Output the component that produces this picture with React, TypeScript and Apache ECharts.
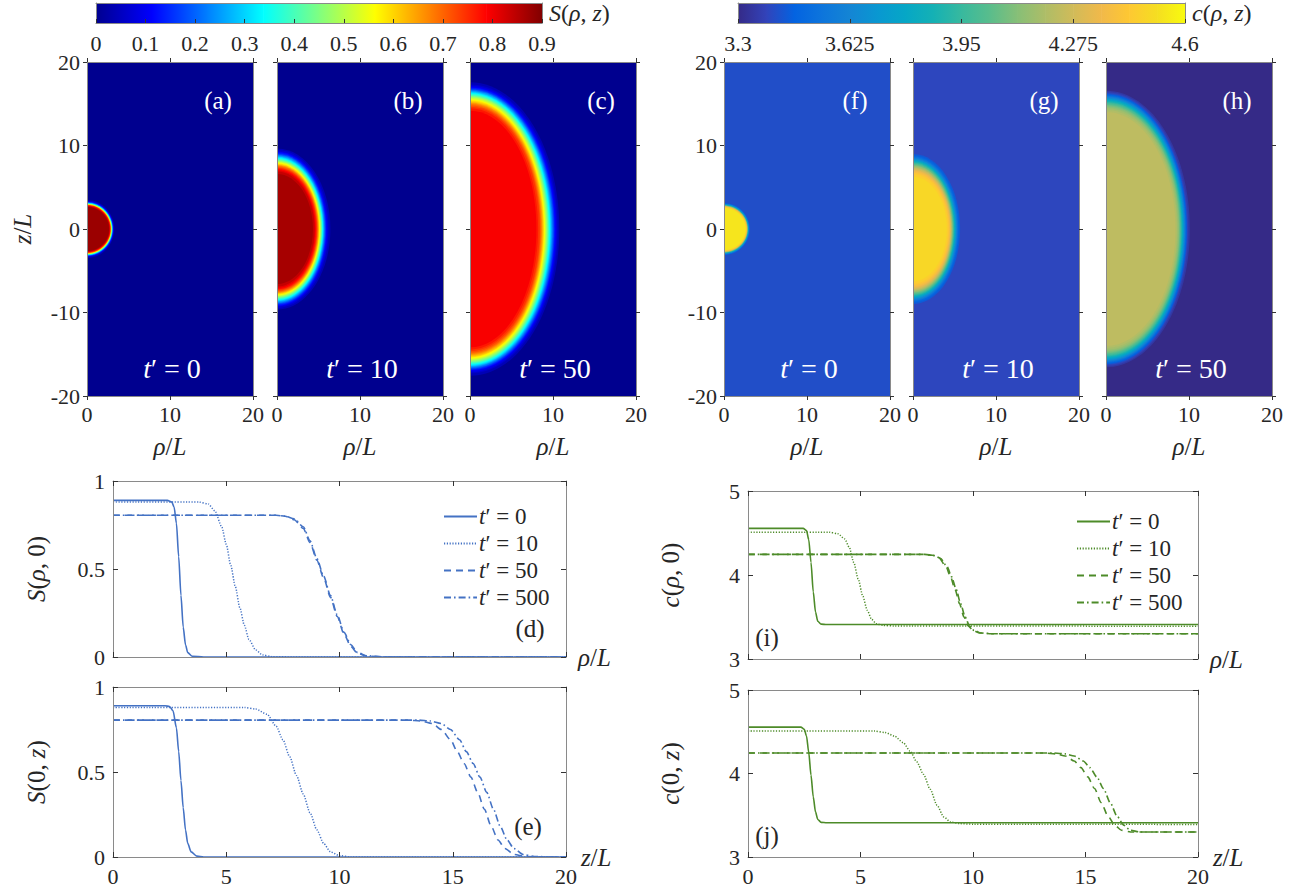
import React, { useEffect, useRef } from 'react';
import * as echarts from 'echarts';

// ---------- data ----------
// S(rho,0)
const S_RHO_T0 = [[0,0.89],[2.4,0.89],[2.6,0.88],[2.7,0.85],[2.8,0.76],[2.9,0.57],[3.0,0.35],[3.1,0.17],[3.2,0.07],[3.3,0.025],[3.5,0.004],[4,0],[20,0]];
const S_RHO_T10 = [[0,0.88],[3.8,0.88],[4.2,0.87],[4.5,0.83],[4.8,0.74],[5.0,0.64],[5.2,0.52],[5.4,0.40],[5.6,0.28],[5.8,0.18],[6.0,0.10],[6.3,0.04],[6.6,0.012],[7,0.002],[8,0],[20,0]];
const S_RHO_T50 = [[0,0.805],[7.2,0.805],[7.6,0.80],[8.0,0.78],[8.4,0.73],[8.7,0.65],[9.0,0.55],[9.3,0.45],[9.6,0.34],[9.9,0.23],[10.2,0.13],[10.5,0.06],[10.8,0.02],[11.2,0.005],[12,0],[20,0]];
const S_RHO_T500 = [[0,0.805],[7.2,0.805],[7.6,0.80],[8.0,0.785],[8.4,0.74],[8.7,0.66],[9.0,0.56],[9.3,0.46],[9.6,0.35],[9.9,0.24],[10.2,0.14],[10.5,0.07],[10.8,0.025],[11.2,0.007],[12,0],[20,0]];
// S(0,z)
const S_Z_T0 = [[0,0.89],[2.3,0.89],[2.5,0.885],[2.65,0.86],[2.8,0.76],[2.9,0.62],[3.0,0.45],[3.1,0.29],[3.2,0.16],[3.3,0.08],[3.45,0.03],[3.7,0.005],[4,0],[20,0]];
const S_Z_T10 = [[0,0.88],[5.8,0.88],[6.3,0.87],[6.8,0.84],[7.2,0.77],[7.5,0.69],[7.8,0.59],[8.1,0.48],[8.4,0.37],[8.7,0.26],[9.0,0.16],[9.3,0.08],[9.6,0.03],[10,0.008],[10.5,0],[20,0]];
const S_Z_T50 = [[0,0.805],[13,0.805],[13.6,0.80],[14.1,0.785],[14.5,0.75],[14.9,0.69],[15.2,0.62],[15.5,0.55],[15.8,0.47],[16.1,0.38],[16.4,0.28],[16.7,0.18],[17.0,0.10],[17.3,0.05],[17.7,0.015],[18.2,0.003],[19,0],[20,0]];
const S_Z_T500 = [[0,0.805],[13.5,0.805],[14.0,0.80],[14.5,0.785],[14.9,0.75],[15.3,0.69],[15.6,0.62],[15.9,0.55],[16.2,0.47],[16.5,0.38],[16.8,0.28],[17.1,0.18],[17.4,0.10],[17.7,0.05],[18.1,0.015],[18.6,0.003],[19.5,0],[20,0]];
// c(rho,0)
const C_RHO_T0 = [[0,4.555],[2.45,4.555],[2.6,4.53],[2.7,4.42],[2.8,4.15],[2.9,3.8],[3.0,3.56],[3.1,3.45],[3.25,3.415],[3.5,3.41],[20,3.41]];
const C_RHO_T10 = [[0,4.51],[3.6,4.51],[4.0,4.49],[4.3,4.43],[4.5,4.33],[4.7,4.15],[4.9,3.95],[5.1,3.75],[5.3,3.58],[5.5,3.47],[5.7,3.42],[6.0,3.40],[6.5,3.393],[20,3.39]];
const C_RHO_T50 = [[0,4.245],[7.8,4.245],[8.2,4.235],[8.5,4.2],[8.8,4.1],[9.0,3.98],[9.2,3.83],[9.4,3.66],[9.6,3.5],[9.8,3.39],[10.0,3.34],[10.3,3.31],[10.8,3.30],[20,3.30]];
const C_RHO_T500 = [[0,4.245],[7.85,4.245],[8.25,4.235],[8.55,4.2],[8.85,4.1],[9.05,3.98],[9.25,3.83],[9.45,3.66],[9.65,3.5],[9.85,3.39],[10.05,3.34],[10.35,3.31],[10.9,3.30],[20,3.30]];
// c(0,z)
const C_Z_T0 = [[0,4.555],[2.35,4.555],[2.5,4.53],[2.6,4.45],[2.7,4.25],[2.8,3.98],[2.9,3.72],[3.0,3.54],[3.1,3.45],[3.25,3.415],[3.5,3.41],[20,3.41]];
const C_Z_T10 = [[0,4.51],[5.6,4.51],[6.1,4.49],[6.5,4.45],[6.9,4.37],[7.2,4.27],[7.5,4.14],[7.8,3.99],[8.1,3.81],[8.4,3.62],[8.7,3.48],[9.0,3.42],[9.4,3.40],[10,3.393],[20,3.39]];
const C_Z_T50 = [[0,4.245],[13.2,4.245],[13.7,4.235],[14.1,4.21],[14.5,4.15],[14.8,4.07],[15.1,3.96],[15.4,3.82],[15.7,3.65],[16.0,3.49],[16.3,3.38],[16.6,3.32],[17.0,3.30],[20,3.30]];
const C_Z_T500 = [[0,4.245],[13.6,4.245],[14.1,4.235],[14.5,4.21],[14.9,4.15],[15.2,4.07],[15.5,3.96],[15.8,3.82],[16.1,3.65],[16.4,3.49],[16.7,3.38],[17.0,3.32],[17.4,3.30],[20,3.30]];

const TIMES = ['0', '10', '50', '500'];
const PANEL_TIMES = ['0', '10', '50'];
const S_BAR_TICKS = [0, 0.1, 0.2, 0.3, 0.4, 0.5, 0.6, 0.7, 0.8, 0.9];
const C_BAR_TICKS = [3.3, 3.625, 3.95, 4.275, 4.6];
const S_LETTERS = ['(a)', '(b)', '(c)'];
const C_LETTERS = ['(f)', '(g)', '(h)'];

// colormaps (evenly spaced stops)
const JET = ['#00008f', '#0000ff', '#0080ff', '#00ffff', '#80ff80', '#ffff00', '#ff8000', '#ff0000', '#800000'];
const PARULA = ['#352a87', '#3243ba', '#0363e1', '#0d75dc', '#1485d4', '#0998d1', '#06a7c6', '#15b1b4', '#38b99e', '#59bd8c', '#87bf77', '#aebd67', '#d1bb59', '#f1b94a', '#fec832', '#f5de21', '#f9fb0e'];

// ---------- styling ----------
const FONT = "'Liberation Serif', 'Times New Roman', serif";
const TXT = '#262626';
const BOX = '#8a8a8a';
const BLUE = '#4472c4';
const GREEN = '#4d8b29';
const TICK_FS = 22;

// rich styles for ECharts text (color) and for graphic texts (fill)
const rich = (size: number, color: string) => ({
  i: { fontFamily: FONT, fontStyle: 'italic', fontSize: size, color },
  n: { fontFamily: FONT, fontSize: size, color },
});
const richG = (size: number, fill: string) => ({
  i: { fontFamily: FONT, fontStyle: 'italic', fontSize: size, fill },
  n: { fontFamily: FONT, fontSize: size, fill },
});

const HM_LEFTS_S = [87, 277, 470];
const HM_LEFTS_C = [724, 913, 1106];
const HM_TOP = 62;
const HM_W = 166;
const HM_H = 334;

function crossing(pts: number[][], c: number): number {
  for (let i = 0; i < pts.length - 1; i++) {
    const [x0, y0] = pts[i];
    const [x1, y1] = pts[i + 1];
    if ((y0 - c) * (y1 - c) <= 0 && y0 !== y1) return x0 + ((c - y0) / (y1 - y0)) * (x1 - x0);
  }
  return 0;
}

function fieldLevels(rho: number[][], z: number[][], n = 32) {
  const inner = rho[0][1];
  const outer = rho[rho.length - 1][1];
  const out: number[][] = [[0, 0, outer, 0]];
  for (let k = 1; k < n; k++) {
    const c = outer + ((inner - outer) * k) / n;
    const cm = outer + ((inner - outer) * (k + 0.5)) / n;
    out.push([crossing(rho, c), crossing(z, c), Math.min(cm, inner), 1]);
  }
  return out;
}

function buildOption() {
  const grids: any[] = [];
  const xAxes: any[] = [];
  const yAxes: any[] = [];
  const series: any[] = [];
  const graphics: any[] = [];
  const sHeatSeries: number[] = [];
  const cHeatSeries: number[] = [];

  const addGrid = (left: number, top: number, width: number, height: number) => {
    grids.push({ left, top, width, height, containLabel: false });
    return grids.length - 1;
  };

  const mkAxis = (gi: number, s: any, pos: string, label: boolean, o: any) => {
    const ax: any = {
      type: 'value', gridIndex: gi, position: pos, min: s.min, max: s.max, z: 10,
      splitLine: { show: false },
      axisLine: { show: true, onZero: false, lineStyle: { color: BOX, width: 1 } },
      axisTick: { show: o.ticks !== false, inside: o.inside, length: o.tick, lineStyle: { color: '#333', width: 1 } },
      axisLabel: { show: label, color: TXT, fontFamily: FONT, fontSize: TICK_FS, margin: o.margin ?? 7 },
    };
    if (s.interval !== undefined) ax.interval = s.interval;
    if (s.custom) {
      ax.axisTick.customValues = s.custom;
      ax.axisLabel.customValues = s.custom;
    }
    return ax;
  };

  const box = (gi: number, xs: any, ys: any, o: any) => {
    const xb = mkAxis(gi, xs, 'bottom', !!o.xLabel, o);
    if (o.xName) Object.assign(xb, o.xName);
    xAxes.push(xb);
    const xi = xAxes.length - 1;
    xAxes.push(mkAxis(gi, xs, 'top', false, o.topTicks === false ? { ...o, ticks: false } : o));
    const yl = mkAxis(gi, ys, 'left', !!o.yLabel, o);
    if (o.yName) Object.assign(yl, o.yName);
    yAxes.push(yl);
    const yi = yAxes.length - 1;
    yAxes.push(mkAxis(gi, ys, 'right', false, o.sideTicks === false ? { ...o, ticks: false } : o));
    return [xi, yi];
  };

  const vText = (x: number, y: number, text: string) => {
    graphics.push({
      type: 'text', x, y, rotation: Math.PI / 2, z: 20,
      style: { text, rich: richG(25, TXT), align: 'center', verticalAlign: 'middle' },
    });
  };

  // ---------- colorbars ----------
  const colorbar = (left: number, width: number, min: number, max: number, ticks: number[], colors: string[], label: string) => {
    const gi = addGrid(left, 3, width, 20);
    const [xi, yi] = box(gi, { min, max, custom: ticks }, { min: 0, max: 1 }, {
      inside: true, tick: 4, xLabel: true, margin: 9, topTicks: false, sideTicks: false,
    });
    yAxes[yi].axisTick.show = false;
    const data: number[][] = [];
    for (let k = 0; k < colors.length - 1; k++) {
      data.push([min + ((max - min) * k) / (colors.length - 1), min + ((max - min) * (k + 1)) / (colors.length - 1), k]);
    }
    series.push({
      type: 'custom', xAxisIndex: xi, yAxisIndex: yi, z: 2, silent: true, data,
      renderItem: (params: any, api: any) => {
        const p0 = api.coord([api.value(0), 0]);
        const p1 = api.coord([api.value(1), 1]);
        const k = api.value(2);
        return {
          type: 'rect',
          shape: { x: p0[0], y: p1[1], width: p1[0] - p0[0] + 0.6, height: p0[1] - p1[1] },
          style: {
            fill: new echarts.graphic.LinearGradient(0, 0, 1, 0, [
              { offset: 0, color: colors[k] }, { offset: 1, color: colors[k + 1] },
            ]),
          },
        };
      },
    });
    graphics.push({
      type: 'text', x: left + width + 7, y: 13,
      style: { text: label, rich: richG(24, TXT), verticalAlign: 'middle', align: 'left' },
    });
  };
  colorbar(96, 446, 0, 0.9, S_BAR_TICKS, JET, '{i|S}{n|(}{i|ρ}{n|, }{i|z}{n|)}');
  colorbar(738, 447, 3.3, 4.6, C_BAR_TICKS, PARULA, '{i|c}{n|(}{i|ρ}{n|, }{i|z}{n|)}');

  // ---------- heatmap panels ----------
  const heat = (left: number, idx: number, rho: number[][], z: number[][], target: number[], letter: string, withYName: boolean) => {
    const gi = addGrid(left, HM_TOP, HM_W, HM_H);
    const [xi, yi] = box(gi, { min: 0, max: 20, interval: 10 }, { min: -20, max: 20, interval: 10 }, {
      inside: false, tick: 4, xLabel: true, yLabel: idx === 0,
      xName: {
        name: '{i|ρ}{n|/}{i|L}', nameLocation: 'middle', nameGap: 38,
        nameTextStyle: { rich: rich(25, TXT) },
      },
    });
    if (withYName) vText(22, HM_TOP + HM_H / 2, '{i|z}{n|/}{i|L}');
    target.push(series.length);
    series.push({
      type: 'custom', xAxisIndex: xi, yAxisIndex: yi, z: 2, clip: true, silent: true,
      data: fieldLevels(rho, z),
      renderItem: (params: any, api: any) => {
        const color = api.visual('color');
        if (api.value(3) === 0) {
          const cs = params.coordSys;
          return { type: 'rect', shape: { x: cs.x, y: cs.y, width: cs.width, height: cs.height }, style: { fill: color } };
        }
        const c = api.coord([0, 0]);
        const s = api.size([api.value(0), api.value(1)]);
        return { type: 'ellipse', shape: { cx: c[0], cy: c[1], rx: s[0], ry: s[1] }, style: { fill: color } };
      },
    });
    graphics.push({
      type: 'text', x: left + HM_W - 35, y: HM_TOP + 38, z: 20,
      style: { text: letter, fill: '#fff', font: `25px ${FONT}`, align: 'center', verticalAlign: 'middle' },
    });
    graphics.push({
      type: 'text', x: left + HM_W / 2 + 2, y: HM_TOP + HM_H - 28, z: 20,
      style: { text: `{i|t}{n|′ = ${PANEL_TIMES[idx]}}`, rich: richG(28, '#fff'), fill: '#fff', align: 'center', verticalAlign: 'middle' },
    });
  };
  const sRho = [S_RHO_T0, S_RHO_T10, S_RHO_T50];
  const sZ = [S_Z_T0, S_Z_T10, S_Z_T50];
  const cRho = [C_RHO_T0, C_RHO_T10, C_RHO_T50];
  const cZ = [C_Z_T0, C_Z_T10, C_Z_T50];
  HM_LEFTS_S.forEach((l, i) => heat(l, i, sRho[i], sZ[i], sHeatSeries, S_LETTERS[i], i === 0));
  HM_LEFTS_C.forEach((l, i) => heat(l, i, cRho[i], cZ[i], cHeatSeries, C_LETTERS[i], false));

  // ---------- line panels ----------
  const STYLES = [
    { type: 'solid', width: 1.6 },
    { type: [1.2, 1.6], width: 1.5 },
    { type: [7, 5], width: 1.6 },
    { type: [7, 3, 1.6, 3], width: 1.6 },
  ];
  const linePanel = (rect: number[], ys: any, xLabel: boolean, curves: number[][][], prefix: string, color: string, xName: string, yName: string, yNameX: number, letter: string, letterPos: number[]) => {
    const gi = addGrid(rect[0], rect[1], rect[2], rect[3]);
    const [xi, yi] = box(gi, { min: 0, max: 20, interval: 5 }, ys, {
      inside: true, tick: 5, xLabel, yLabel: true, margin: 8,
      xName: {
        name: xName, nameLocation: 'end', nameGap: 12,
        nameTextStyle: { rich: rich(25, TXT), verticalAlign: 'middle', align: 'left' },
      },
    });
    vText(yNameX, rect[1] + rect[3] / 2, yName);
    curves.forEach((d, k) => {
      series.push({
        type: 'line', name: `${prefix}:${TIMES[k]}`, xAxisIndex: xi, yAxisIndex: yi, data: d,
        symbol: 'none', smooth: 0.25, smoothMonotone: 'x', z: 3, silent: true,
        lineStyle: { color, width: STYLES[k].width, type: STYLES[k].type as any },
        itemStyle: { color },
      });
    });
    graphics.push({
      type: 'text', x: letterPos[0], y: letterPos[1], z: 20,
      style: { text: letter, fill: TXT, font: `25px ${FONT}`, align: 'center', verticalAlign: 'middle' },
    });
  };
  const sY = { min: 0, max: 1, interval: 0.5 };
  const cY = { min: 3, max: 5, interval: 1 };
  linePanel([113, 481, 453, 176], sY, false, [S_RHO_T0, S_RHO_T10, S_RHO_T50, S_RHO_T500], 'S', BLUE,
    '{i|ρ}{n|/}{i|L}', '{i|S}{n|(}{i|ρ}{n|, 0)}', 36, '(d)', [530, 628]);
  linePanel([113, 687, 453, 170], sY, true, [S_Z_T0, S_Z_T10, S_Z_T50, S_Z_T500], 'S', BLUE,
    '{i|z}{n|/}{i|L}', '{i|S}{n|(0, }{i|z}{n|)}', 36, '(e)', [528, 826]);
  linePanel([748, 491, 450, 168], cY, false, [C_RHO_T0, C_RHO_T10, C_RHO_T50, C_RHO_T500], 'c', GREEN,
    '{i|ρ}{n|/}{i|L}', '{i|c}{n|(}{i|ρ}{n|, 0)}', 670, '(i)', [767, 637]);
  linePanel([748, 690, 450, 167], cY, true, [C_Z_T0, C_Z_T10, C_Z_T50, C_Z_T500], 'c', GREEN,
    '{i|z}{n|/}{i|L}', '{i|c}{n|(0, }{i|z}{n|)}', 670, '(j)', [767, 835]);

  const legendFor = (prefix: string, left: number, top: number) => ({
    data: TIMES.map((t) => `${prefix}:${t}`),
    left, top, orient: 'vertical', itemWidth: 33, itemHeight: 14, itemGap: 4,
    selectedMode: false,
    itemStyle: { opacity: 0, borderWidth: 0 },
    formatter: (name: string) => `{i|t}{n|′ = ${name.split(':')[1]}}`,
    textStyle: { rich: { ...rich(23, TXT) }, lineHeight: 23, padding: [0, 0, 0, -3] },
  });

  return {
    animation: false,
    textStyle: { fontFamily: FONT },
    grid: grids,
    xAxis: xAxes,
    yAxis: yAxes,
    series,
    visualMap: [
      { type: 'continuous', show: false, seriesIndex: sHeatSeries, dimension: 2, min: 0, max: 0.9, inRange: { color: JET } },
      { type: 'continuous', show: false, seriesIndex: cHeatSeries, dimension: 2, min: 3.3, max: 4.6, inRange: { color: PARULA } },
    ],
    legend: [legendFor('S', 438, 500), legendFor('c', 1071, 505)],
    graphic: graphics,
  };
}

export default function App() {
  const ref = useRef<HTMLDivElement>(null);
  useEffect(() => {
    const chart = echarts.init(ref.current!, null, { renderer: 'svg' });
    chart.setOption(buildOption() as any);
    return () => chart.dispose();
  }, []);
  return (
    <div
      ref={ref}
      style={{ position: 'fixed', left: 0, top: 0, width: 1314, height: 896, background: '#fff' }}
    />
  );
}
